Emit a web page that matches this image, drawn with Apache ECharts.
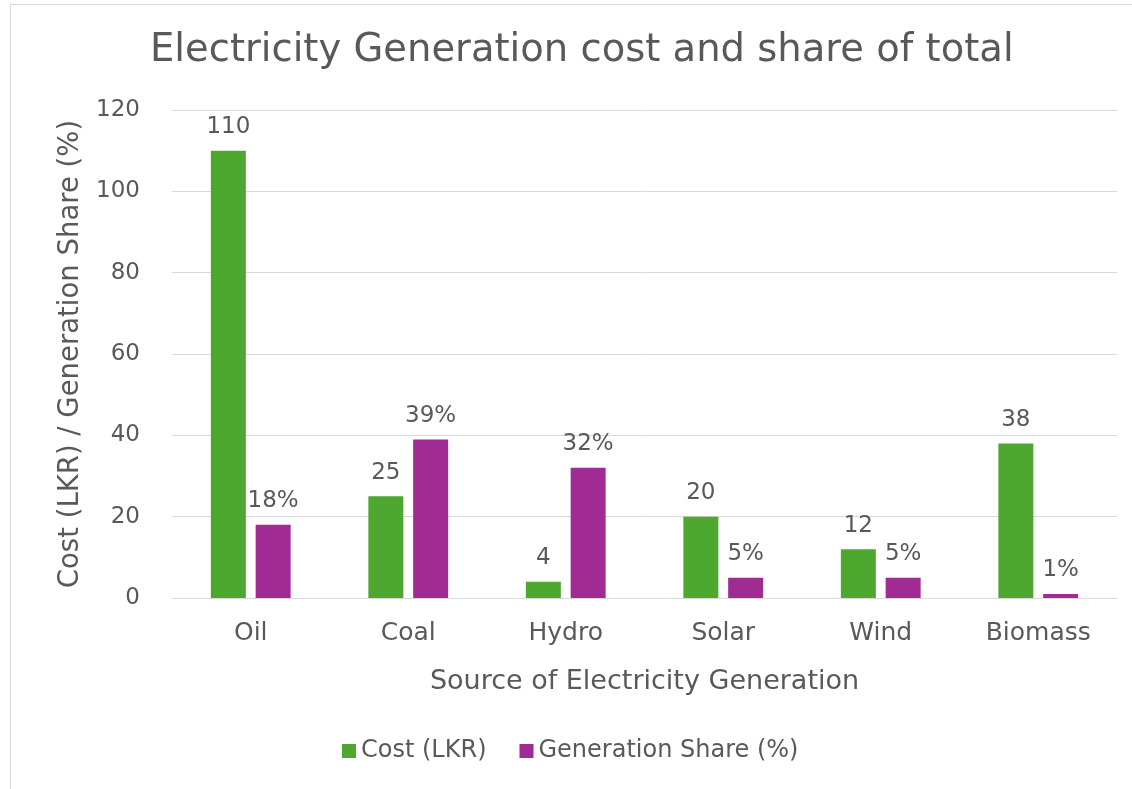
<!DOCTYPE html>
<html>
<head>
<meta charset="utf-8">
<style>
  html, body { margin: 0; padding: 0; background: #fff; }
  #frame { position: absolute; left: 10px; top: 4px; width: 1140px; height: 800px; border: 1px solid #d9d9d9; box-sizing: border-box; }
  #chart { position: absolute; left: 0; top: 0; width: 1132px; height: 789px; }
</style>
<script src="https://cdn.jsdelivr.net/npm/echarts@6/dist/echarts.min.js"></script>
</head>
<body>
<div id="frame"></div>
<div id="chart"></div>
<script>
// Electricity generation: unit cost and share of total output by source
const categories = ['Oil', 'Coal', 'Hydro', 'Solar', 'Wind', 'Biomass'];
const costLKR = [110, 25, 4, 20, 12, 38];
const sharePct = [18, 39, 32, 5, 5, 1];
const yTicks = [0, 20, 40, 60, 80, 100, 120];

const FONT = '"DejaVu Sans", "Open Sans", sans-serif';
const TEXT = '#595959';

const chart = echarts.init(document.getElementById('chart'), null, { renderer: 'canvas' });
chart.setOption({
  animation: false,
  textStyle: { fontFamily: FONT, color: TEXT },
  title: {
    text: 'Electricity Generation cost and share of total',
    left: 145,
    top: 26,
    textStyle: { fontFamily: FONT, fontSize: 38.5, fontWeight: 'normal', color: TEXT }
  },
  legend: {
    bottom: 21,
    left: 337,
    itemWidth: 14,
    itemHeight: 14,
    itemGap: 33,
    icon: 'rect',
    textStyle: { fontFamily: FONT, fontSize: 24, color: TEXT }
  },
  grid: { left: 172, right: 15, top: 110, bottom: 191, containLabel: false },
  xAxis: {
    type: 'category',
    data: categories,
    name: 'Source of Electricity Generation',
    nameLocation: 'middle',
    nameGap: 70,
    nameTextStyle: { fontFamily: FONT, fontSize: 27, color: TEXT },
    axisLine: { show: true, lineStyle: { color: '#d9d9d9', width: 1 } },
    axisTick: { show: false },
    axisLabel: { fontFamily: FONT, fontSize: 25, color: TEXT, margin: 23 }
  },
  yAxis: {
    type: 'value',
    min: yTicks[0],
    max: yTicks[yTicks.length - 1],
    interval: yTicks[1] - yTicks[0],
    name: 'Cost (LKR) / Generation Share (%)',
    nameLocation: 'middle',
    nameGap: 85,
    nameTextStyle: { fontFamily: FONT, fontSize: 27.5, color: TEXT },
    axisLine: { show: false },
    axisTick: { show: false },
    axisLabel: { fontFamily: FONT, fontSize: 23, color: TEXT, margin: 32 },
    splitLine: { lineStyle: { color: '#d9d9d9', width: 1 } }
  },
  series: [
    {
      name: 'Cost (LKR)',
      type: 'bar',
      data: costLKR,
      barWidth: 35,
      barGap: '28%',
      itemStyle: { color: '#4EA72E' },
      label: { show: true, position: 'top', distance: 12, fontFamily: FONT, fontSize: 23, color: TEXT }
    },
    {
      name: 'Generation Share (%)',
      type: 'bar',
      data: sharePct,
      barWidth: 35,
      barGap: '28%',
      itemStyle: { color: '#A02B93' },
      label: { show: true, position: 'top', distance: 12, fontFamily: FONT, fontSize: 23, color: TEXT,
               formatter: p => p.value + '%' }
    }
  ]
});
</script>
</body>
</html>
